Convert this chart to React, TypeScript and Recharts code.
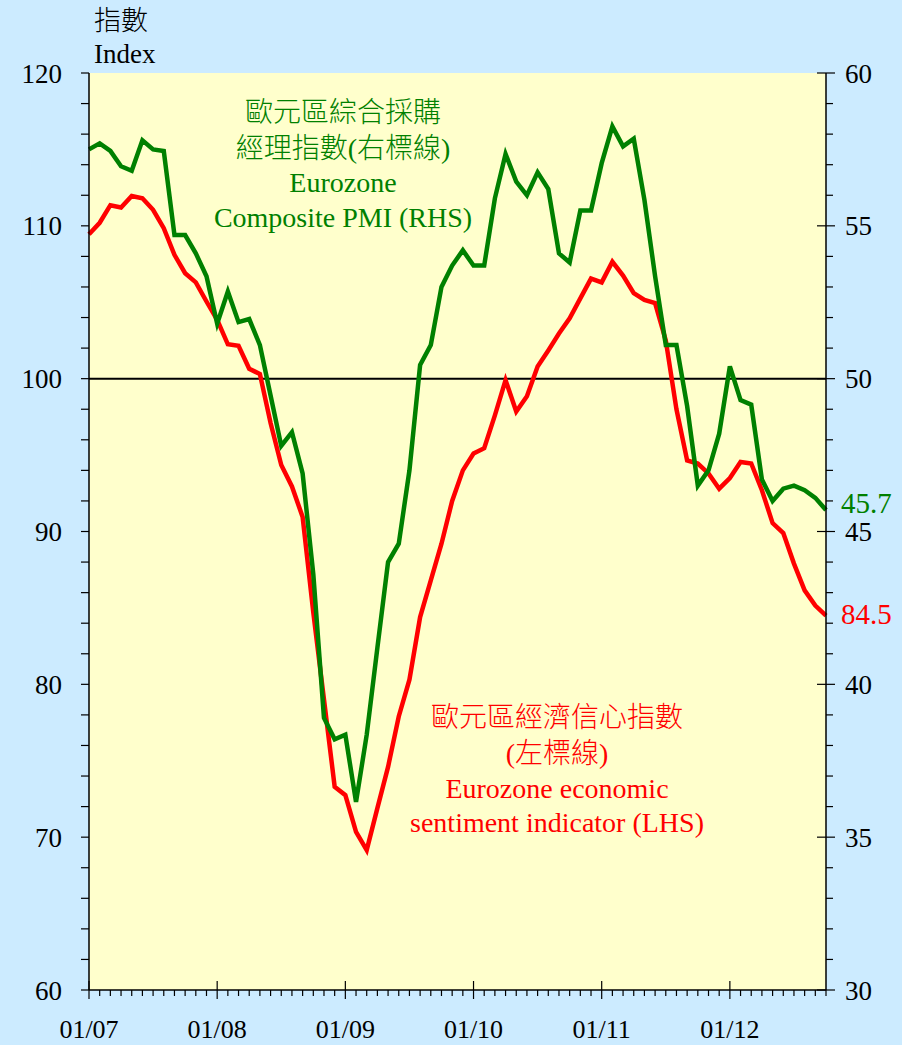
import React from 'react';
import { LineChart, Line, XAxis, YAxis, CartesianGrid, ReferenceLine } from 'recharts';

const FONT = "'Liberation Serif', 'Times New Roman', Times, 'Noto Sans CJK TC', serif";

const months = [
  '01/07','02/07','03/07','04/07','05/07','06/07','07/07','08/07','09/07','10/07','11/07','12/07',
  '01/08','02/08','03/08','04/08','05/08','06/08','07/08','08/08','09/08','10/08','11/08','12/08',
  '01/09','02/09','03/09','04/09','05/09','06/09','07/09','08/09','09/09','10/09','11/09','12/09',
  '01/10','02/10','03/10','04/10','05/10','06/10','07/10','08/10','09/10','10/10','11/10','12/10',
  '01/11','02/11','03/11','04/11','05/11','06/11','07/11','08/11','09/11','10/11','11/11','12/11',
  '01/12','02/12','03/12','04/12','05/12','06/12','07/12','08/12','09/12','10/12',
];

// Eurozone Composite PMI (right axis)
const pmi = [
  57.5, 57.7, 57.45, 56.95, 56.8, 57.8, 57.5, 57.45, 54.7, 54.7, 54.1, 53.35,
  51.8, 52.85, 51.85, 51.95, 51.1, 49.45, 47.8, 48.25, 46.9, 43.6, 38.9, 38.2,
  38.35, 36.15, 38.35, 41.2, 44.0, 44.6, 47.0, 50.45, 51.1, 53.0, 53.7, 54.2,
  53.7, 53.7, 55.9, 57.35, 56.45, 56.0, 56.75, 56.2, 54.1, 53.8, 55.5, 55.5,
  57.05, 58.25, 57.6, 57.85, 55.85, 53.35, 51.1, 51.1, 49.1, 46.5, 47.0, 48.2,
  50.4, 49.3, 49.15, 46.7, 46.0, 46.4, 46.5, 46.35, 46.1, 45.7,
];

// Eurozone economic sentiment indicator (left axis)
const esi = [
  109.45, 110.2, 111.35, 111.2, 111.95, 111.8, 111.05, 109.85, 108.1, 106.9, 106.3, 105.05,
  103.85, 102.25, 102.15, 100.65, 100.3, 97.1, 94.35, 92.95, 90.95, 84.7, 79.0, 73.3,
  72.75, 70.35, 69.15, 71.9, 74.6, 77.9, 80.3, 84.4, 86.8, 89.2, 92.0, 94.0,
  95.1, 95.45, 97.6, 99.9, 97.85, 98.85, 100.8, 101.85, 102.95, 103.95, 105.25, 106.55,
  106.3, 107.65, 106.75, 105.6, 105.15, 104.95, 102.5, 98.0, 94.65, 94.45, 93.8, 92.8,
  93.5, 94.55, 94.45, 92.7, 90.55, 89.9, 87.9, 86.15, 85.15, 84.5,
];

const xTicks = [
  0,1,2,3,4,5,6,7,8,9,10,11,12,13,14,15,16,17,18,19,20,21,22,23,24,25,26,27,28,29,30,31,32,33,34,
  35,36,37,38,39,40,41,42,43,44,45,46,47,48,49,50,51,52,53,54,55,56,57,58,59,60,61,62,63,64,65,66,67,68,69,
];
const leftTicks = [60,62,64,66,68,70,72,74,76,78,80,82,84,86,88,90,92,94,96,98,100,102,104,106,108,110,112,114,116,118,120];
const leftMajor = [60,70,80,90,100,110,120];
const rightTicks = [30,31,32,33,34,35,36,37,38,39,40,41,42,43,44,45,46,47,48,49,50,51,52,53,54,55,56,57,58,59,60];
const rightMajor = [30,35,40,45,50,55,60];

const data = months.map((m, i) => ({ idx: i, month: m, esi: esi[i], pmi: pmi[i] }));

const XTick = (props: any) => {
  const { x, y, payload } = props;
  const label = months[payload.value];
  const isYear = label && label.startsWith('01/');
  return (
    <g>
      <line x1={x} x2={x} y1={isYear ? y - 9 : y} y2={isYear ? y + 9 : y + 6} stroke="#000" strokeWidth={1.2} />
      {isYear ? (
        <text x={x} y={y + 48} textAnchor="middle" fontSize={26} fontFamily={FONT} fill="#000">{label}</text>
      ) : null}
    </g>
  );
};

const LeftTick = (props: any) => {
  const { x, y, payload } = props;
  const v = payload.value;
  const isMajor = leftMajor.includes(v);
  return (
    <g>
      <line x1={x - 8} x2={x} y1={y} y2={y} stroke="#000" strokeWidth={1.2} />
      {isMajor ? (
        <text x={x - 27} y={y + 9.5} textAnchor="end" fontSize={27} fontFamily={FONT} fill="#000">{v}</text>
      ) : null}
    </g>
  );
};

const RightTick = (props: any) => {
  const { x, y, payload } = props;
  const v = payload.value;
  const isMajor = rightMajor.includes(v);
  return (
    <g>
      <line x1={isMajor ? x - 9 : x} x2={isMajor ? x + 9 : x + 7} y1={y} y2={y} stroke="#000" strokeWidth={1.2} />
      {isMajor ? (
        <text x={x + 19} y={y + 9.5} textAnchor="start" fontSize={27} fontFamily={FONT} fill="#000">{v}</text>
      ) : null}
    </g>
  );
};

const lastLabel = (color: string, dy: number) => (p: any) => {
  if (p.index !== months.length - 1) return <g key={`e${p.index}`} />;
  return (
    <text key={`l${p.index}`} x={p.x + 15} y={p.y + dy} fontSize={29} fontFamily={FONT} fill={color}>
      {p.value}
    </text>
  );
};

export default function App() {
  return (
    <div style={{ position: 'absolute', left: 0, top: 0, width: 902, height: 1045, background: '#CCEBFF', overflow: 'hidden' }}>
      <LineChart width={902} height={1045} data={data} margin={{ top: 73, right: 0, bottom: 0, left: 0 }}>
        <CartesianGrid horizontal={false} vertical={false} fill="#FFFFCC" stroke="none" />
        <XAxis
          dataKey="idx"
          type="number"
          domain={[0, 69]}
          ticks={xTicks}
          interval={0}
          height={55}
          tickLine={false}
          tickSize={0}
          tickMargin={0}
          axisLine={{ stroke: '#000', strokeWidth: 1.5 }}
          tick={(p: any) => <XTick {...p} />}
        />
        <YAxis
          yAxisId="left"
          orientation="left"
          width={89}
          domain={[60, 120]}
          ticks={leftTicks}
          interval={0}
          tickLine={false}
          tickSize={0}
          tickMargin={0}
          axisLine={{ stroke: '#000', strokeWidth: 1.5 }}
          tick={(p: any) => <LeftTick {...p} />}
        />
        <YAxis
          yAxisId="right"
          orientation="right"
          width={76}
          domain={[30, 60]}
          ticks={rightTicks}
          interval={0}
          tickLine={false}
          tickSize={0}
          tickMargin={0}
          axisLine={{ stroke: '#000', strokeWidth: 1.5 }}
          tick={(p: any) => <RightTick {...p} />}
        />
        <ReferenceLine yAxisId="left" y={100} stroke="#000" strokeWidth={2} />
        <Line
          yAxisId="left"
          type="linear"
          dataKey="esi"
          stroke="#FF0000"
          strokeWidth={4.5}
          dot={false}
          isAnimationActive={false}
          label={lastLabel('#FF0000', 8.5)}
        />
        <Line
          yAxisId="right"
          type="linear"
          dataKey="pmi"
          stroke="#008000"
          strokeWidth={4.5}
          dot={false}
          isAnimationActive={false}
          label={lastLabel('#008000', 3)}
        />
      </LineChart>
      <svg width={902} height={1045} style={{ position: 'absolute', left: 0, top: 0, pointerEvents: 'none' }}>
        <g fontFamily={FONT} fontSize={27} fill="#000">
          <text x={94} y={30} fontWeight={300}>指數</text>
          <text x={94} y={63}>Index</text>
        </g>
        <g fontFamily={FONT} fontSize={28} fill="#008000" textAnchor="middle">
          <text x={343} y={122} fontWeight={300}>歐元區綜合採購</text>
          <text x={343} y={158} fontWeight={300}>經理指數(右標線)</text>
          <text x={343} y={192}>Eurozone</text>
          <text x={343} y={227}>Composite PMI (RHS)</text>
        </g>
        <g fontFamily={FONT} fontSize={28} fill="#FF0000" textAnchor="middle">
          <text x={557} y={727} fontWeight={300}>歐元區經濟信心指數</text>
          <text x={557} y={763} fontWeight={300}>(左標線)</text>
          <text x={557} y={798}>Eurozone economic</text>
          <text x={557} y={832}>sentiment indicator (LHS)</text>
        </g>
      </svg>
    </div>
  );
}
